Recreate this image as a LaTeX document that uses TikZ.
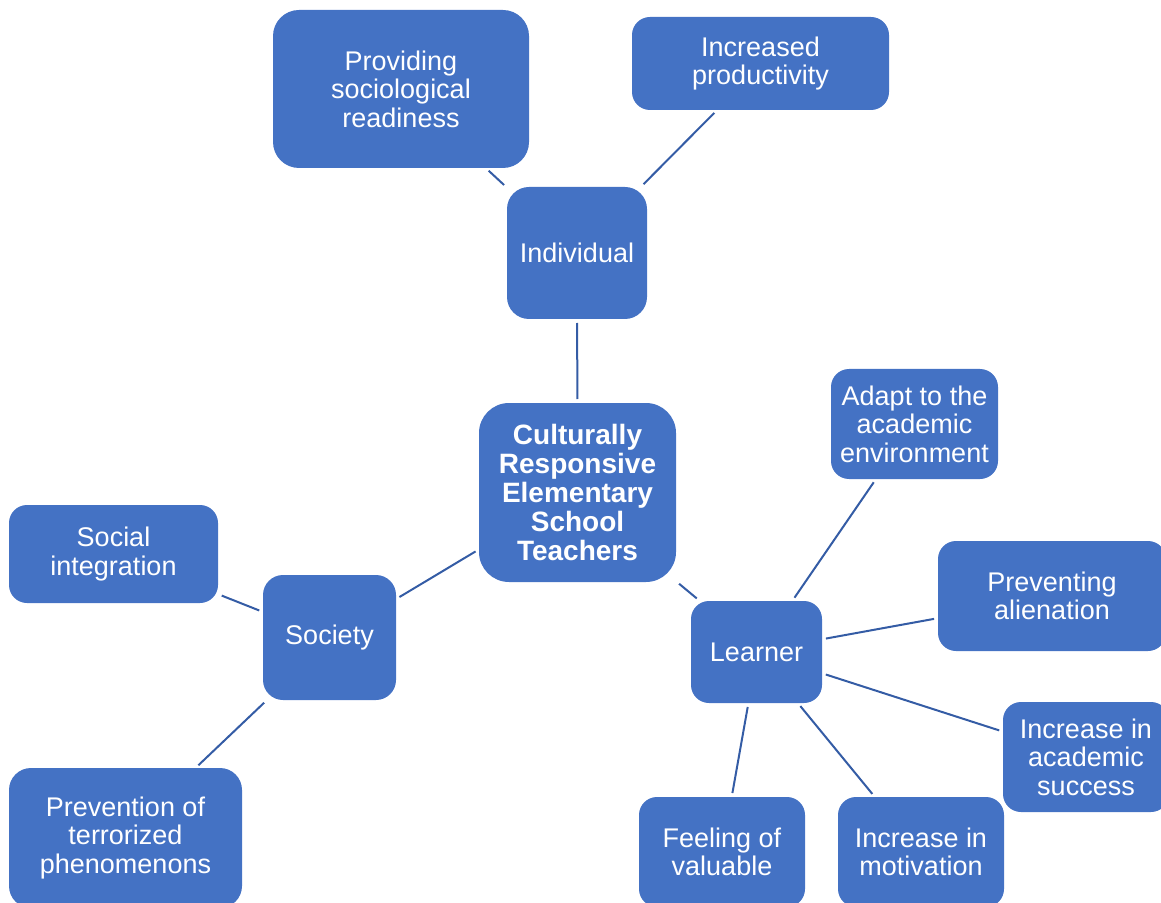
\documentclass[tikz,border=0pt]{standalone}
\usepackage{fontspec}
\setmainfont{Liberation Sans}
\usepackage{xcolor}
\usepackage{tikz}
\definecolor{boxblue}{HTML}{4472C4}
\definecolor{linkblue}{HTML}{345CA5}

\begin{document}
\begin{tikzpicture}[x=0.5pt,y=-0.5pt,
  topic/.style={fill=boxblue,text=white,align=center,inner sep=0pt,outer sep=0pt,
    rounded corners=9pt,font=\fontsize{13.5}{14.2}\selectfont},
  link/.style={draw=linkblue,line width=1pt,shorten <=2pt,shorten >=2pt}]
\clip (0,0) rectangle (1161,903);
\node[topic,minimum width=128pt,minimum height=79pt,rounded corners=13pt] (prov) at (401,89) {Providing\\sociological\\readiness};
\node[topic,minimum width=128.5pt,minimum height=46.5pt] (prod) at (760.5,63.5) {Increased\\productivity};
\node[topic,minimum width=70pt,minimum height=66pt,rounded corners=11pt] (indiv) at (577,253) {Individual};
\node[topic,minimum width=98.5pt,minimum height=89.5pt,rounded corners=15pt,
  font=\bfseries\fontsize{14}{14.5}\selectfont] (crest) at (577.5,492.5) {Culturally\\Responsive\\Elementary\\School\\Teachers};
\node[topic,minimum width=83.5pt,minimum height=55pt] (adapt) at (914.5,424) {Adapt to the\\academic\\environment};
\node[topic,minimum width=104.5pt,minimum height=49pt] (socint) at (113.5,554) {Social\\integration};
\node[topic,minimum width=66.5pt,minimum height=62.5pt,rounded corners=10pt] (society) at (329.5,637.5) {Society};
\node[topic,minimum width=114pt,minimum height=55pt] (alien) at (1052,596) {Preventing\\alienation};
\node[topic,minimum width=65.5pt,minimum height=51pt] (learner) at (756.5,652) {Learner};
\node[topic,minimum width=83pt,minimum height=55pt] (acad) at (1086,757) {Increase in\\academic\\success};
\node[topic,minimum width=116.5pt,minimum height=70pt,rounded corners=11pt] (terror) at (125.5,838) {Prevention of\\terrorized\\phenomenons};
\node[topic,minimum width=83pt,minimum height=55pt] (feel) at (722,852) {Feeling of\\valuable};
\node[topic,minimum width=83pt,minimum height=55pt] (motiv) at (921,852) {Increase in\\motivation};

\draw[link] (indiv.137) -- (prov.-43);
\draw[link] (indiv.46) -- (prod.227);
\draw[link] (indiv.-90) -- (crest.90);
\draw[link] (crest.210) -- (society.30);
\draw[link] (crest.-42) -- (learner.138);
\draw[link] (society.159) -- (socint.-21);
\draw[link] (society.225) -- (terror.45);
\draw[link] (learner.55) -- (adapt.235);
\draw[link] (learner.11) -- (alien.191);
\draw[link] (learner.-18) -- (acad.163);
\draw[link] (learner.-51) -- (motiv.130);
\draw[link] (learner.261) -- (feel.80);
\end{tikzpicture}
\end{document}
